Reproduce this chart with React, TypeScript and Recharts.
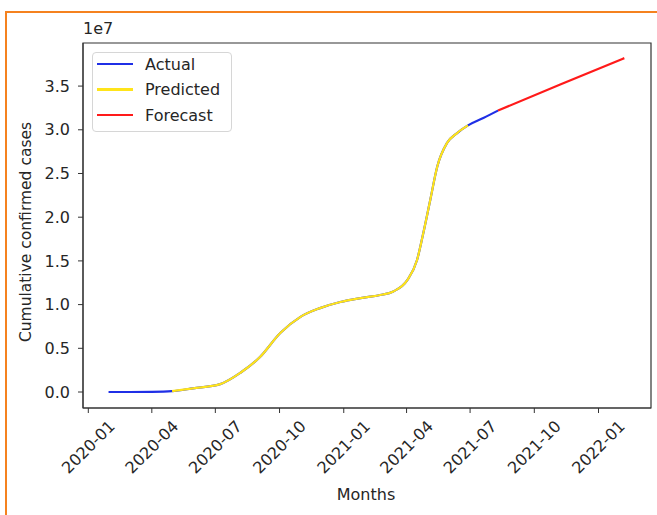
import * as React from "react";
import { LineChart, Line, XAxis, YAxis, ReferenceArea } from "recharts";

// Cumulative confirmed cases (India), actual vs predicted vs forecast.
const ORIGIN = "2020-01-01";

const actualDates = [
  "2020-01-30", "2020-03-01", "2020-04-01", "2020-04-30", "2020-05-30",
  "2020-07-08", "2020-08-06", "2020-09-03", "2020-10-02", "2020-10-31",
  "2020-11-28", "2020-12-27", "2021-01-25", "2021-02-22", "2021-03-13",
  "2021-04-02", "2021-04-16", "2021-04-25", "2021-05-05", "2021-05-15",
  "2021-05-29", "2021-06-12", "2021-06-28", "2021-07-20", "2021-08-10",
];
const actualValues = [
  0, 0, 20000, 100000, 420000,
  900000, 2200000, 4000000, 6750000, 8600000,
  9600000, 10300000, 10750000, 11100000, 11500000,
  12800000, 15100000, 18200000, 22000000, 25800000,
  28500000, 29600000, 30500000, 31350000, 32200000,
];

const predictedDates = [
  "2020-04-30", "2020-05-30", "2020-07-08", "2020-08-06", "2020-09-03",
  "2020-10-02", "2020-10-31", "2020-11-28", "2020-12-27", "2021-01-25",
  "2021-02-22", "2021-03-13", "2021-04-02", "2021-04-16", "2021-04-25",
  "2021-05-05", "2021-05-15", "2021-05-29", "2021-06-12", "2021-06-28",
];
const predictedValues = [
  100000, 420000, 900000, 2200000, 4000000,
  6750000, 8600000, 9600000, 10300000, 10750000,
  11100000, 11500000, 12800000, 15100000, 18200000,
  22000000, 25800000, 28500000, 29600000, 30500000,
];

const forecastDates = ["2021-08-10", "2021-11-08", "2022-02-07"];
const forecastValues = [32200000, 35200000, 38200000];

const xTickLabels = [
  "2020-01", "2020-04", "2020-07", "2020-10", "2021-01",
  "2021-04", "2021-07", "2021-10", "2022-01",
];
const yTicks = [0, 5e6, 1e7, 1.5e7, 2e7, 2.5e7, 3e7, 3.5e7];

const FONT = "'DejaVu Sans', sans-serif";
const TEXT = "#262626";

function dayOf(iso: string): number {
  return Math.round((Date.parse(iso) - Date.parse(ORIGIN)) / 86400000);
}

type Row = { day: number; actual?: number; predicted?: number; forecast?: number };

function buildRows(): Row[] {
  const map = new Map<number, Row>();
  const put = (dates: string[], vals: number[], key: "actual" | "predicted" | "forecast") => {
    dates.forEach((d, i) => {
      const day = dayOf(d);
      const row = map.get(day) ?? { day };
      row[key] = vals[i];
      map.set(day, row);
    });
  };
  put(actualDates, actualValues, "actual");
  put(predictedDates, predictedValues, "predicted");
  put(forecastDates, forecastValues, "forecast");
  return Array.from(map.values()).sort((a, b) => a.day - b.day);
}

const X_DOMAIN: [number, number] = [-7.6, 806.2];
const Y_DOMAIN: [number, number] = [-1.83e6, 3.993e7];

const xTicks = xTickLabels.map((m) => dayOf(m + "-01"));

function RotatedTick(props: any) {
  const { x, y, payload } = props;
  const idx = xTicks.indexOf(payload.value);
  return (
    <text
      transform={`translate(${x},${y + 34}) rotate(-45)`}
      textAnchor="middle"
      dominantBaseline="central"
      fontFamily={FONT}
      fontSize={16}
      fill={TEXT}
    >
      {xTickLabels[idx]}
    </text>
  );
}

const legendItems = [
  { label: "Actual", color: "#1f2fe6" },
  { label: "Predicted", color: "#ffe41a" },
  { label: "Forecast", color: "#ff1a1a" },
];

export default function App() {
  const rows = buildRows();
  return (
    <div
      style={{
        position: "absolute",
        left: 0,
        top: 0,
        width: 657,
        height: 515,
        overflow: "hidden",
        background: "#fff",
        fontFamily: FONT,
      }}
    >
      <div
        style={{
          position: "absolute",
          left: 5,
          top: 11,
          width: 800,
          height: 700,
          borderTop: "2px solid #f5821f",
          borderLeft: "2px solid #f5821f",
        }}
      />
      <LineChart
        width={657}
        height={515}
        data={rows}
        margin={{ top: 43, right: 6, bottom: 37, left: 23 }}
      >
        <ReferenceArea
          x1={X_DOMAIN[0]}
          x2={X_DOMAIN[1]}
          y1={Y_DOMAIN[0]}
          y2={Y_DOMAIN[1]}
          fill="none"
          stroke="#333"
          strokeWidth={1.2}
          ifOverflow="extendDomain"
        />
        <XAxis
          type="number"
          dataKey="day"
          domain={X_DOMAIN}
          allowDataOverflow
          ticks={xTicks}
          height={70}
          tickSize={5}
          tickMargin={0}
          stroke="#333"
          tick={<RotatedTick />}
          interval={0}
        />
        <YAxis
          type="number"
          domain={Y_DOMAIN}
          allowDataOverflow
          ticks={yTicks}
          width={60}
          tickSize={5}
          tickMargin={8}
          stroke="#333"
          interval={0}
          tick={{ fontFamily: FONT, fontSize: 16, fill: TEXT }}
          tickFormatter={(v: number) => (v / 1e7).toFixed(1)}
        />
        <Line
          type="monotone"
          dataKey="actual"
          stroke={legendItems[0].color}
          strokeWidth={2.2}
          dot={false}
          connectNulls
          isAnimationActive={false}
        />
        <Line
          type="monotone"
          dataKey="predicted"
          stroke={legendItems[1].color}
          strokeWidth={2.2}
          dot={false}
          connectNulls
          isAnimationActive={false}
        />
        <Line
          type="monotone"
          dataKey="forecast"
          stroke={legendItems[2].color}
          strokeWidth={2.2}
          dot={false}
          connectNulls
          isAnimationActive={false}
        />
      </LineChart>

      {/* axis labels and offset text */}
      <div
        style={{
          position: "absolute",
          left: 83,
          top: 19,
          fontSize: 16,
          color: TEXT,
        }}
      >
        1e7
      </div>
      <div
        style={{
          position: "absolute",
          left: 366,
          top: 494,
          transform: "translate(-50%, -50%)",
          fontSize: 16,
          color: TEXT,
          whiteSpace: "nowrap",
        }}
      >
        Months
      </div>
      <div
        style={{
          position: "absolute",
          left: 26,
          top: 232,
          transform: "translate(-50%, -50%) rotate(-90deg)",
          fontSize: 15.5,
          color: TEXT,
          whiteSpace: "nowrap",
        }}
      >
        Cumulative confirmed cases
      </div>

      {/* legend */}
      <div
        style={{
          position: "absolute",
          left: 92,
          top: 52,
          width: 138,
          height: 78,
          border: "1px solid #d6d6d6",
          borderRadius: 4,
          background: "rgba(255,255,255,0.85)",
        }}
      >
        {legendItems.map((it, i) => (
          <div
            key={it.label}
            style={{
              position: "absolute",
              left: 4,
              top: 0 + i * 25.5,
              height: 22,
              display: "flex",
              alignItems: "center",
            }}
          >
            <span
              style={{
                display: "inline-block",
                width: 36,
                height: 2.4,
                background: it.color,
                marginRight: 12,
              }}
            />
            <span style={{ fontSize: 16, color: TEXT }}>{it.label}</span>
          </div>
        ))}
      </div>
    </div>
  );
}
